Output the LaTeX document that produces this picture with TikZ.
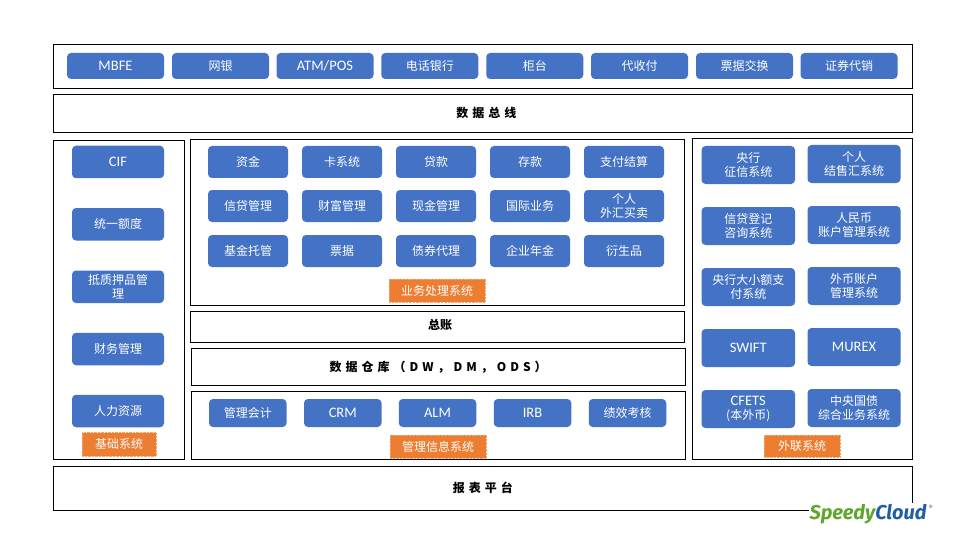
\documentclass[tikz,border=0pt]{standalone}
\usepackage{fontspec}
\setmainfont{Noto Sans CJK SC}
\newfontfamily\latinfont{Carlito}
\newfontfamily\logofont{Fira Sans}
\newcommand{\lat}[1]{{\latinfont\fontsize{14.5}{14.5}\selectfont #1}}
\definecolor{btnblue}{HTML}{4472C4}
\definecolor{tagorange}{HTML}{ED7D31}
\definecolor{logogreen}{HTML}{5FA52E}
\definecolor{logoblue}{HTML}{1F5FA8}
\usetikzlibrary{positioning}
\tikzset{
  panel/.style={draw=black,line width=1pt,fill=white,inner sep=0pt},
  barlabel/.style={font=\fontsize{12}{13}\selectfont\bfseries\spaceskip 4pt\relax},
  btn/.style={fill=btnblue,text=white,rounded corners=4pt,inner sep=0pt,align=center,
    font=\fontsize{12}{14.5}\selectfont},
  tag/.style={fill=tagorange,draw=tagorange!70!white,densely dotted,text=white,inner sep=0pt,
    font=\fontsize{12}{14}\selectfont},
}
\begin{document}
\begin{tikzpicture}[x=1pt,y=-1pt]
  \path[use as bounding box] (0,0) rectangle (960,540);
  % panels
  \node[panel,minimum width=859pt,minimum height=44pt] (channels) at (482.8,66.3) {};
  \node[panel,minimum width=859pt,minimum height=38pt,barlabel] (bus) at (482.8,113.3) {\hspace*{7pt}\raisebox{2pt}{数 据 总 线}};
  \node[panel,minimum width=131.4pt,minimum height=319pt] (base) at (119,299.8) {};
  \node[panel,minimum width=494pt,minimum height=166pt] (biz) at (437.2,222.3) {};
  \node[panel,minimum width=494pt,minimum height=31.3pt,barlabel] (ledger) at (437.2,326.7) {\hspace*{6pt}\raisebox{4pt}{总账}};
  \node[panel,minimum width=494pt,minimum height=37.3pt,barlabel] (dw) at (438.2,367) {\raisebox{1pt}{数 据 仓 库 （ D W ， D M ， O D S ）}};
  \node[panel,minimum width=494pt,minimum height=68pt] (mis) at (438.2,425.3) {};
  \node[panel,minimum width=219.6pt,minimum height=321pt] (ext) at (802.5,298.8) {};
  \node[panel,minimum width=859pt,minimum height=44pt,barlabel] (report) at (482.8,488.3) {\raisebox{2pt}{报 表 平 台}};
  % top row
  \foreach \n/\x/\t in {a/115.5/\lat{MBFE},b/220.5/网银,c/325/\lat{ATM/POS},d/429.75/电话银行,
      e/534.75/柜台,f/639.5/代收付,g/744.5/票据交换,h/849/证券代销}
    \node[btn,minimum width=97pt,minimum height=26pt] (chan\n) at (\x,66) {\t};
  % left column
  \foreach \n/\y/\t in {a/162/\lat{CIF},b/224.25/统一额度,c/286.75/抵质押品管\\理,d/349/财务管理,e/411/人力资源}
    \node[btn,minimum width=92pt,minimum height=32.5pt] (base\n) at (118,\y) {\t};
  \node[tag,minimum width=74pt,minimum height=23.5pt] (basetag) at (119,444.25) {基础系统};
  % business systems
  \foreach \n/\x/\y/\t in {a/248/162/资金,b/342/162/卡系统,c/436/162/贷款,d/530/162/存款,e/624/162/支付结算,
      f/248/206/信贷管理,g/342/206/财富管理,h/436/206/现金管理,i/530/206/国际业务,j/624/206/个人\\外汇买卖,
      k/248/251/基金托管,l/342/251/票据,m/436/251/债券代理,n/530/251/企业年金,o/624/251/衍生品}
    \node[btn,minimum width=80pt,minimum height=32pt] (biz\n) at (\x,\y) {\t};
  \node[tag,minimum width=96pt,minimum height=23pt] (biztag) at (437,290.5) {业务处理系统};
  % management systems
  \foreach \n/\x/\t in {a/247.75/管理会计,b/342.75/\lat{CRM},c/437.5/\lat{ALM},d/532.5/\lat{IRB},e/627.5/绩效考核}
    \node[btn,minimum width=77.5pt,minimum height=28pt] (mis\n) at (\x,413) {\t};
  \node[tag,minimum width=96pt,minimum height=23pt] (mistag) at (438,446.5) {管理信息系统};
  % external systems
  \foreach \n/\y/\t in {a/165/央行\\征信系统,b/226/信贷登记\\咨询系统,c/287/央行大小额支\\付系统,d/348/\lat{SWIFT},e/409/\lat{CFETS}\\(本外币)}
    \node[btn,minimum width=93.5pt,minimum height=38pt] (extl\n) at (748.25,\y) {\t};
  \foreach \n/\y/\t in {a/164/个人\\结售汇系统,b/225/人民币\\账户管理系统,c/286/外币账户\\管理系统,d/347/\lat{MUREX},e/408/中央国债\\综合业务系统}
    \node[btn,minimum width=93pt,minimum height=38pt] (extr\n) at (854,\y) {\t};
  \node[tag,minimum width=76pt,minimum height=22pt] (exttag) at (802,446) {外联系统};
  % logo
  \node[fill=white,inner sep=1pt,font=\logofont\fontsize{20}{22}\selectfont\bfseries\itshape] (logo) at (868,514)
    {\textcolor{logogreen}{Speedy}\textcolor{logoblue}{Cloud}};
  \node[right=1pt of logo.north east,yshift=-5pt,inner sep=0pt,text=black!60,font=\fontsize{8}{8}\selectfont] (reg) {®};
\end{tikzpicture}
\end{document}
